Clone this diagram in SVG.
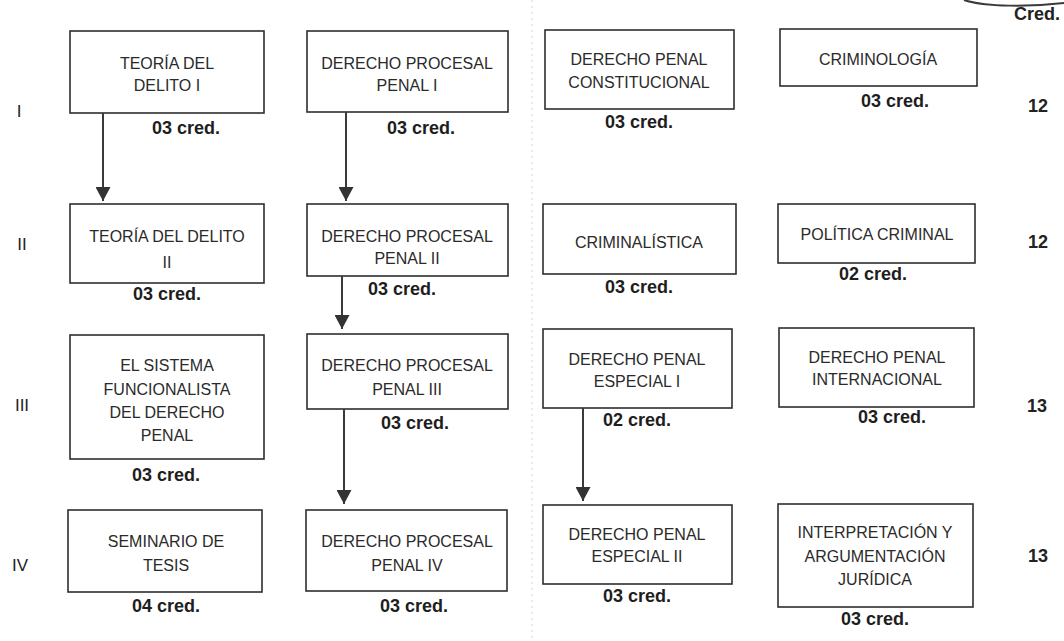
<svg xmlns="http://www.w3.org/2000/svg" width="1064" height="641" viewBox="0 0 1064 641">
<style>
.box{fill:#fff;stroke:#2e2e2e;stroke-width:1.6}
.t{font-family:"Liberation Sans",Arial,sans-serif;font-size:16px;fill:#2a2a2a;text-anchor:middle}
.c{font-family:"Liberation Sans",Arial,sans-serif;font-size:18px;font-weight:bold;fill:#1e1e1e;text-anchor:middle}
.r{font-family:"Liberation Sans",Arial,sans-serif;font-size:17px;fill:#222;text-anchor:middle}
.n{font-family:"Liberation Sans",Arial,sans-serif;font-size:18px;font-weight:bold;fill:#222;text-anchor:middle}
.con{stroke:#3a3a3a;stroke-width:2;fill:none}
</style>
<defs>
<marker id="ah" markerUnits="userSpaceOnUse" markerWidth="15" markerHeight="15" refX="14" refY="7.5" orient="auto" viewBox="0 0 15 15">
<path d="M0,0 L14,7.5 L0,15 z" fill="#333"/>
</marker>
</defs>
<rect width="1064" height="641" fill="#fff"/>
<line x1="532" y1="0" x2="532" y2="641" stroke="#d6d6d6" stroke-width="1" stroke-dasharray="2 4"/>
<path d="M964,0 C985,7 1030,7 1064,3" class="con"/>
<text class="n" x="1037" y="20">Cred.</text>

<g id="row-labels">
<text class="r" x="19" y="117">I</text>
<text class="r" x="22" y="250">II</text>
<text class="r" x="22" y="411">III</text>
<text class="r" x="20" y="571">IV</text>
</g>
<g id="totals">
<text class="n" x="1038" y="112">12</text>
<text class="n" x="1038" y="248">12</text>
<text class="n" x="1037" y="412">13</text>
<text class="n" x="1038" y="562">13</text>
</g>

<g id="teoria-delito-1">
<rect class="box" x="70" y="31" width="194" height="82"/>
<text class="t" x="167" y="69">TEORÍA DEL</text>
<text class="t" x="167" y="91">DELITO I</text>
<text class="c" x="186" y="134">03 cred.</text>
</g>
<g id="dpp-1">
<rect class="box" x="307" y="31" width="201" height="81"/>
<text class="t" x="407" y="69">DERECHO PROCESAL</text>
<text class="t" x="407" y="91">PENAL I</text>
<text class="c" x="421" y="134">03 cred.</text>
</g>
<g id="dp-constitucional">
<rect class="box" x="545" y="30" width="189" height="79"/>
<text class="t" x="639" y="65">DERECHO PENAL</text>
<text class="t" x="639" y="88">CONSTITUCIONAL</text>
<text class="c" x="639" y="128">03 cred.</text>
</g>
<g id="criminologia">
<rect class="box" x="780" y="29" width="197" height="57"/>
<text class="t" x="878" y="65">CRIMINOLOGÍA</text>
<text class="c" x="895" y="107">03 cred.</text>
</g>

<g id="teoria-delito-2">
<rect class="box" x="70" y="204" width="194" height="79"/>
<text class="t" x="167" y="242">TEORÍA DEL DELITO</text>
<text class="t" x="167" y="268">II</text>
<text class="c" x="167" y="300">03 cred.</text>
</g>
<g id="dpp-2">
<rect class="box" x="307" y="204" width="201" height="72"/>
<text class="t" x="407" y="242">DERECHO PROCESAL</text>
<text class="t" x="407" y="264">PENAL II</text>
<text class="c" x="402" y="295">03 cred.</text>
</g>
<g id="criminalistica">
<rect class="box" x="543" y="204" width="193" height="70"/>
<text class="t" x="639" y="248">CRIMINALÍSTICA</text>
<text class="c" x="639" y="293">03 cred.</text>
</g>
<g id="politica-criminal">
<rect class="box" x="778" y="204" width="197" height="59"/>
<text class="t" x="877" y="240">POLÍTICA CRIMINAL</text>
<text class="c" x="873" y="280">02 cred.</text>
</g>

<g id="sistema-funcionalista">
<rect class="box" x="70" y="335" width="194" height="124"/>
<text class="t" x="167" y="371">EL SISTEMA</text>
<text class="t" x="167" y="395">FUNCIONALISTA</text>
<text class="t" x="167" y="418">DEL DERECHO</text>
<text class="t" x="167" y="441">PENAL</text>
<text class="c" x="166" y="481">03 cred.</text>
</g>
<g id="dpp-3">
<rect class="box" x="307" y="334" width="201" height="75"/>
<text class="t" x="407" y="371">DERECHO PROCESAL</text>
<text class="t" x="407" y="395">PENAL III</text>
<text class="c" x="415" y="429">03 cred.</text>
</g>
<g id="dpe-1">
<rect class="box" x="543" y="329" width="189" height="79"/>
<text class="t" x="637" y="365">DERECHO PENAL</text>
<text class="t" x="637" y="387">ESPECIAL I</text>
<text class="c" x="637" y="426">02 cred.</text>
</g>
<g id="dp-internacional">
<rect class="box" x="779" y="328" width="195" height="79"/>
<text class="t" x="877" y="363">DERECHO PENAL</text>
<text class="t" x="877" y="385">INTERNACIONAL</text>
<text class="c" x="892" y="423">03 cred.</text>
</g>

<g id="seminario-tesis">
<rect class="box" x="68" y="510" width="194" height="82"/>
<text class="t" x="166" y="547">SEMINARIO DE</text>
<text class="t" x="166" y="571">TESIS</text>
<text class="c" x="166" y="612">04 cred.</text>
</g>
<g id="dpp-4">
<rect class="box" x="306" y="510" width="201" height="81"/>
<text class="t" x="407" y="547">DERECHO PROCESAL</text>
<text class="t" x="407" y="571">PENAL IV</text>
<text class="c" x="414" y="612">03 cred.</text>
</g>
<g id="dpe-2">
<rect class="box" x="543" y="505" width="189" height="79"/>
<text class="t" x="637" y="540">DERECHO PENAL</text>
<text class="t" x="637" y="562">ESPECIAL II</text>
<text class="c" x="637" y="602">03 cred.</text>
</g>
<g id="interpretacion">
<rect class="box" x="778" y="504" width="195" height="103"/>
<text class="t" x="875" y="538">INTERPRETACIÓN Y</text>
<text class="t" x="875" y="562">ARGUMENTACIÓN</text>
<text class="t" x="875" y="585">JURÍDICA</text>
<text class="c" x="875" y="625">03 cred.</text>
</g>

<g id="connectors">
<line class="con" x1="103" y1="113" x2="103" y2="201" marker-end="url(#ah)"/>
<line class="con" x1="346" y1="112" x2="346" y2="201" marker-end="url(#ah)"/>
<line class="con" x1="342" y1="276" x2="342" y2="329" marker-end="url(#ah)"/>
<line class="con" x1="344" y1="409" x2="344" y2="504" marker-end="url(#ah)"/>
<line class="con" x1="583" y1="408" x2="583" y2="501" marker-end="url(#ah)"/>
</g>
</svg>
